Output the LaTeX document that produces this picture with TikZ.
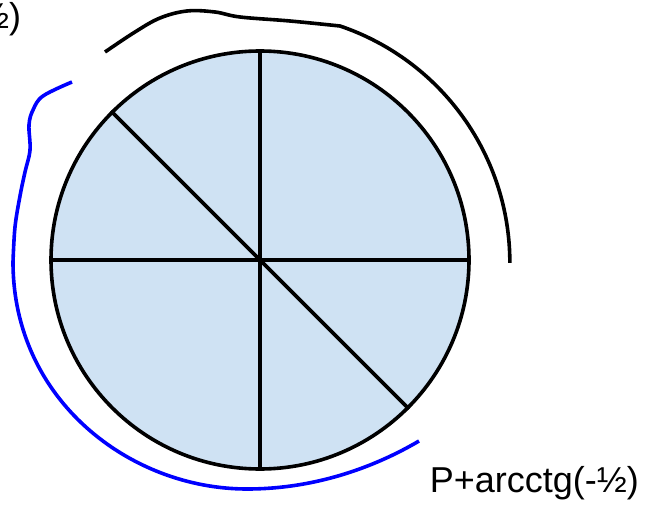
\documentclass[tikz,border=0pt]{standalone}
\usepackage{fontspec}
\setmainfont{Liberation Sans}
\usepackage{xcolor}
\definecolor{disk_color}{HTML}{CFE2F3}
\definecolor{arc_blue}{RGB}{0, 0, 255}

\begin{document}
\begin{tikzpicture}[x=1pt, y=-1pt, line width=3.6pt,
    label_font/.style={font=\fontsize{36}{42}\selectfont, inner sep=0pt}]

      \useasboundingbox (0,0) rectangle (647,505);

      % 1. Círculo relleno
      \node[circle, draw, fill=disk_color, minimum size=418pt, inner sep=0pt] (disk) at (260,260) {};

      % 2. Radios
      \draw (disk.90) -- (disk.270);
      \draw (disk.180.6) -- (disk.-0.6);
      \draw (disk.135) -- (disk.-45);

      % 3. Arco negro (arriba y derecha)
      \draw plot[smooth, tension=0.6] coordinates {(105,52) (135,32) (160,18) (187,11) (215,12) (240,17) (290,21) (340,26)}
        arc[start angle=-71.3, end angle=0, radius=250];

      % 4. Arco azul (izquierda y abajo)
      \draw[arc_blue] plot[smooth, tension=0.6] coordinates {(72,82) (43,96) (33,110) (29,125) (30,150) (25,172) (20,196) (15,227) (13,262)}
        .. controls (13,400) and (130,489) .. (247,489)
        .. controls (320,489) and (380,464) .. (419,441);

      % 5. Textos
      \node[label_font, anchor=base west] (bottomlabel) at (428,492) {P+arcctg(-½)};
      \node[label_font, anchor=base east] (toplabel) at (23,29) {½)};

\end{tikzpicture}
\end{document}
